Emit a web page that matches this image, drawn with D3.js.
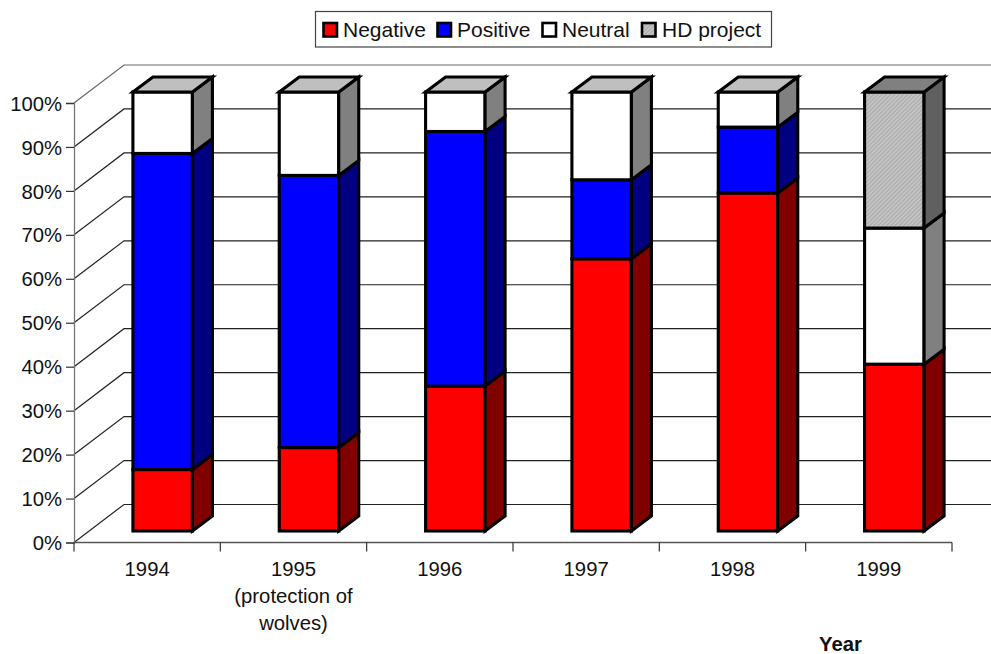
<!DOCTYPE html>
<html><head><meta charset="utf-8">
<script src="https://cdn.jsdelivr.net/npm/d3@7"></script>
<style>html,body{margin:0;padding:0;background:#fff}svg{display:block}text{font-family:"Liberation Sans",Arial,sans-serif;font-size:20.3px;fill:#111}</style>
</head><body><svg id="c" width="991" height="654"></svg>
<script>
const categories=[["1994"],["1995","(protection of","wolves)"],["1996"],["1997"],["1998"],["1999"]];
const seriesNames=["Negative","Positive","Neutral","HD project"];
const negative=[14,19,33,62,77,38];
const positive=[72,62,58,18,15,0];
const neutral=[14,19,9,20,8,31];
const hdProject=[0,0,0,0,0,31];
const yTicks=[0,10,20,30,40,50,60,70,80,90,100];
const seriesValues=[negative,positive,neutral,hdProject];
const fronts=["#ff0000","#0000ff","#ffffff","url(#hatch)"];
const sides=["#800000","#000080","#808080","#606060"];
const tops=["#800000","#000080","#bfbfbf","#808080"];

const svg=d3.select("#c");
const defs=svg.append("defs");
const pat=defs.append("pattern").attr("id","hatch").attr("width",3).attr("height",3)
  .attr("patternUnits","userSpaceOnUse").attr("patternTransform","rotate(-45)");
pat.append("rect").attr("width",3).attr("height",3).attr("fill","#c4c4c4");
pat.append("rect").attr("width",3).attr("height",1).attr("fill","#a8a8a8");

const x=d3.scaleBand().domain(d3.range(categories.length)).range([74,952]);
const yAxisScale=d3.scaleLinear().domain([0,100]).range([542.5,103]);
const depthX=50,depthY=-38;
const yBar=d3.scaleLinear().domain([0,100]).range([531,92]);
const barW=59.5,bdx=20,bdy=-15;
const barX=i=>x(i)+x.bandwidth()/2+15.5-barW/2;

// gridlines: left wall diagonal + back wall horizontal
const grid=svg.append("g");
yTicks.forEach(t=>{
  const y0=yAxisScale(t);
  grid.append("path")
    .attr("d",d3.line()([[74,y0],[74+depthX,y0+depthY],[1002,y0+depthY]]))
    .attr("fill","none").attr("stroke",t===100?"#666":"#222").attr("stroke-width",1.2);
});

// axes
const axY=svg.append("g").attr("transform","translate(74,0)")
  .call(d3.axisLeft(yAxisScale).tickValues(yTicks).tickFormat(d=>d+"%").tickSize(8).tickPadding(4));
axY.select(".domain").attr("stroke","#777").attr("stroke-width",1.3);
axY.selectAll(".tick line").attr("stroke","#333").attr("stroke-width",1.2);
axY.selectAll("text").attr("font-size",null).attr("font-family",null).attr("fill",null).attr("dy","0.35em");

const axXg=svg.append("g").attr("transform","translate(0,542.5)");
axXg.append("path").attr("d","M74,0H952").attr("stroke","#555").attr("stroke-width",1.3).attr("fill","none");
const boundaries=d3.range(categories.length).map(i=>x(i)).concat([x.range()[1]]);
axXg.selectAll("line.t").data(boundaries).join("line").attr("class","t")
  .attr("x1",d=>d).attr("x2",d=>d).attr("y1",0).attr("y2",9).attr("stroke","#333").attr("stroke-width",1.2);
const labels=svg.append("g").attr("text-anchor","middle");
categories.forEach((lines,i)=>{
  const cx=x(i)+x.bandwidth()/2;
  lines.forEach((s,j)=>labels.append("text").attr("x",cx).attr("y",576+j*27).text(s));
});
svg.append("text").attr("x",819).attr("y",651).style("font-weight","bold").text("Year");

// bars
const sw=3.1;
const bars=svg.append("g").attr("stroke","#000").attr("stroke-width",sw).attr("stroke-linejoin","miter");
categories.forEach((c,i)=>{
  const bx=barX(i);
  let acc=0,topS=-1;
  const segs=[];
  seriesValues.forEach((vals,s)=>{
    if(vals[i]>0){segs.push({s,a:acc,b:acc+vals[i]});acc+=vals[i];topS=s;}
  });
  segs.forEach(g=>{
    const ya=yBar(g.a),yb=yBar(g.b);
    bars.append("rect").attr("x",bx).attr("y",yb).attr("width",barW).attr("height",ya-yb).attr("fill",fronts[g.s]);
    bars.append("path").attr("d",d3.line()([[bx+barW,ya],[bx+barW+bdx,ya+bdy],[bx+barW+bdx,yb+bdy],[bx+barW,yb]])+"Z").attr("fill",sides[g.s]);
  });
  const yt=yBar(acc);
  bars.append("path").attr("d",d3.line()([[bx,yt],[bx+bdx,yt+bdy],[bx+barW+bdx,yt+bdy],[bx+barW,yt]])+"Z").attr("fill",tops[topS]);
});

// legend
svg.append("rect").attr("x",315.5).attr("y",11.5).attr("width",456).attr("height",35.5).attr("fill","#fff").attr("stroke","#444").attr("stroke-width",1.2);
const swX=[323.5,437.5,542.5,642],txtX=[343,457,562,662];
seriesNames.forEach((n,i)=>{
  svg.append("rect").attr("x",swX[i]).attr("y",23).attr("width",13.5).attr("height",13.5).attr("fill",fronts[i]).attr("stroke","#000").attr("stroke-width",2.6);
  svg.append("text").attr("x",txtX[i]).attr("y",36.5).style("font-size","21px").text(n);
});
</script></body></html>
